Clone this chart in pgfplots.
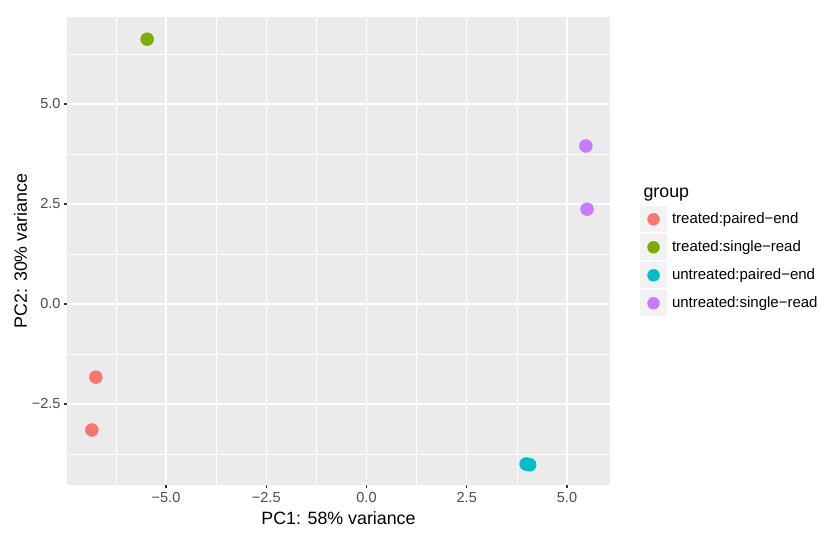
\documentclass[border=0pt]{standalone}
\usepackage{fontspec}
\setmainfont{Liberation Sans}
\usepackage{pgfplots}
\pgfplotsset{compat=1.18}
\definecolor{panel}{HTML}{EBEBEB}
\definecolor{keybg}{HTML}{F2F2F2}
\definecolor{cA}{HTML}{F8766D}
\definecolor{cB}{HTML}{7CAE00}
\definecolor{cC}{HTML}{00BFC4}
\definecolor{cD}{HTML}{C77CFF}
\begin{document}
\begin{tikzpicture}[x=1pt,y=1pt]
\useasboundingbox (0,0) rectangle (831,535);
\begin{axis}[
    at={(67pt,50pt)}, anchor=south west,
    scale only axis, width=543pt, height=468pt,
    xmin=-7.469, xmax=6.072, ymin=-4.525, ymax=7.175,
    axis background/.style={fill=panel},
    axis line style={draw=none},
    xtick={-5,-2.5,0,2.5,5}, xticklabels={−5.0,−2.5,0.0,2.5,5.0},
    ytick={-2.5,0,2.5,5}, yticklabels={−2.5,0.0,2.5,5.0},
    minor xtick={-6.25,-3.75,-1.25,1.25,3.75},
    minor ytick={-3.75,-1.25,1.25,3.75,6.25},
    grid=both,
    major grid style={white, line width=1.1pt},
    minor grid style={white, line width=0.55pt},
    tick align=outside, tick pos=left,
    major tick length=3pt, minor tick length=0pt,
    tick style={black!80, line width=1.1pt},
    ticklabel style={font=\fontsize{14.5}{16}\selectfont, text=black!70},
    xticklabel style={yshift=-1pt},
    xlabel={PC1: 58\% variance}, ylabel={PC2: 30\% variance},
    label style={font=\fontsize{17.8}{20}\selectfont},
    xlabel style={yshift=-2pt},
    ylabel style={yshift=-2pt},
    legend style={at={(1.055,0.596)}, anchor=north west, draw=none, fill=none,
        inner sep=0pt, row sep=2pt, column sep=5pt,
        font=\fontsize{15}{17}\selectfont, nodes={inner xsep=0pt}},
    legend cell align=left,
    legend image code/.code={
        \fill[keybg] (0pt,-13pt) rectangle (27pt,13pt);
        \draw[only marks, mark size=6pt] plot coordinates {(13.5pt,0pt)};
    },
]
\addplot[only marks, mark=*, mark size=6.5pt, draw=none, fill=cA, color=cA]
    coordinates {(-6.75,-1.83) (-6.85,-3.15)};
\addplot[only marks, mark=*, mark size=6.5pt, draw=none, fill=cB, color=cB]
    coordinates {(-5.47,6.62)};
\addplot[only marks, mark=*, mark size=6.5pt, draw=none, fill=cC, color=cC]
    coordinates {(3.98,-4.00) (4.07,-4.02)};
\addplot[only marks, mark=*, mark size=6.5pt, draw=none, fill=cD, color=cD]
    coordinates {(5.47,3.95) (5.50,2.37)};
\legend{treated:paired−end, treated:single−read, untreated:paired−end, untreated:single−read}
\end{axis}
\node[anchor=base west, font=\fontsize{17.8}{20}\selectfont] at (640,337) {group};
\end{tikzpicture}
\end{document}
